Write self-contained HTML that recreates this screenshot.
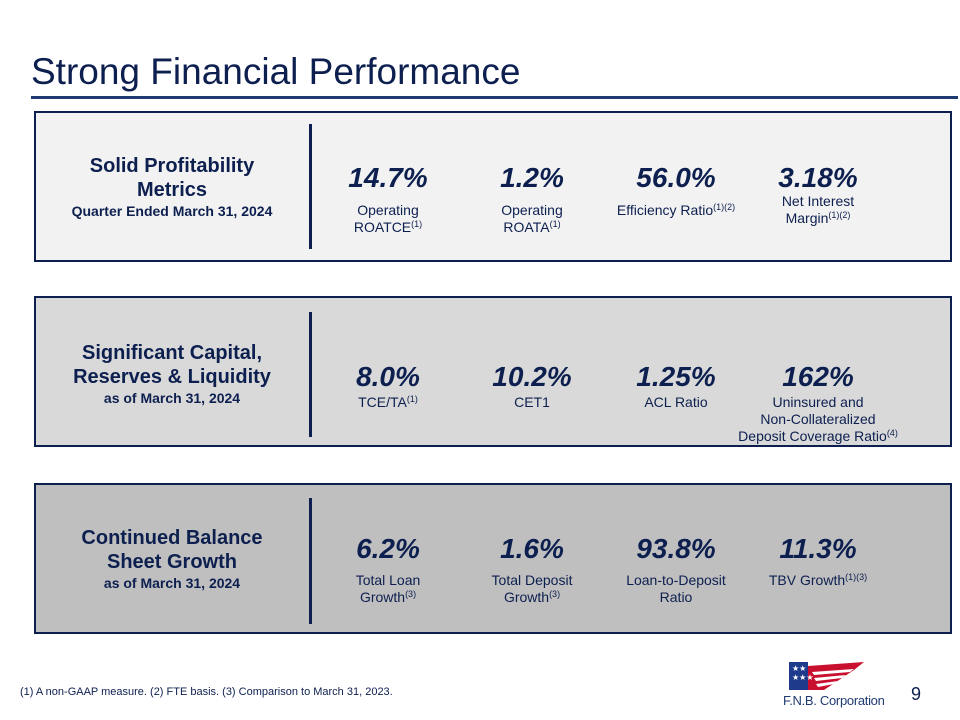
<!DOCTYPE html>
<html><head><meta charset="utf-8"><style>
body{margin:0;width:960px;height:720px;background:#fff;position:relative;overflow:hidden;font-family:"Liberation Sans",Arial,sans-serif;color:#0c1f4f}
.abs{position:absolute}
.title{left:31px;top:51px;font-size:37px;color:#0c1f4f}
.rule{left:31px;top:96px;width:927px;height:3px;background:#1f3a70}
.box{left:34px;width:918px;height:148px;border:2px solid #0c1f4f;box-sizing:border-box}
.div{width:3px;background:#0c1f4f;left:309px}
.head{width:270px;left:37px;text-align:center;font-weight:bold}
.h1{font-size:20px;line-height:24px}
.h2{font-size:14px;line-height:18px}
.big{font-size:28px;font-weight:bold;font-style:italic;width:150px;text-align:center}
.lab{font-size:14px;width:170px;text-align:center;line-height:17px;color:#0c1f4f}
sup{font-size:9px;vertical-align:5px;line-height:0}
</style></head><body>
<div class="abs title">Strong Financial Performance</div>
<div class="abs rule"></div>

<div class="abs box" style="top:111px;height:151px;background:#f2f2f2"></div>
<div class="abs div" style="top:124px;height:125px"></div>
<div class="abs head" style="top:154px"><div class="h1">Solid Profitability<br>Metrics</div><div class="h2">Quarter Ended March 31, 2024</div></div>

<div class="abs box" style="top:296px;height:151px;background:#d9d9d9"></div>
<div class="abs div" style="top:312px;height:125px"></div>
<div class="abs head" style="top:341px"><div class="h1">Significant Capital,<br>Reserves &amp; Liquidity</div><div class="h2">as of March 31, 2024</div></div>

<div class="abs box" style="top:483px;height:151px;background:#bfbfbf"></div>
<div class="abs div" style="top:498px;height:126px"></div>
<div class="abs head" style="top:526px"><div class="h1">Continued Balance<br>Sheet Growth</div><div class="h2">as of March 31, 2024</div></div>

<div id="metrics"></div>

<div class="abs" style="left:20px;top:686px;font-size:11px;color:#0c1f4f">(1) A non-GAAP measure. (2) FTE basis. (3) Comparison to March 31, 2023.</div>
<div class="abs" style="left:911px;top:684px;font-size:18px">9</div>

<svg class="abs" style="left:784px;top:662px" width="80" height="32">
<polygon points="5,0 24,0 24,28 5,28" fill="#1f3a8a"/>
<polygon points="24,4 80,0 70,8 40,28 24,28" fill="#c8102e"/>
<polygon points="28,10 70,7 66,10 30,13" fill="#fff"/>
<polygon points="30,16 62,13 58,16 32,19" fill="#fff"/>
<polygon points="32,22 54,19 50,22 34,25" fill="#fff"/>
<text x="8" y="9" font-size="8" fill="#fff">★★</text><text x="8" y="18" font-size="8" fill="#fff">★★★</text>
</svg>
<div class="abs" style="left:783px;top:693px;font-size:13px;color:#1f3a70;letter-spacing:-0.3px">F.N.B. Corporation</div>

<script>
const values1=["14.7%","1.2%","56.0%","3.18%"];
const labels1=["Operating<br>ROATCE<sup>(1)</sup>","Operating<br>ROATA<sup>(1)</sup>","Efficiency Ratio<sup>(1)(2)</sup>","Net Interest<br>Margin<sup>(1)(2)</sup>"];
const values2=["8.0%","10.2%","1.25%","162%"];
const labels2=["TCE/TA<sup>(1)</sup>","CET1","ACL Ratio","Uninsured and<br>Non-Collateralized<br>Deposit Coverage Ratio<sup>(4)</sup>"];
const values3=["6.2%","1.6%","93.8%","11.3%"];
const labels3=["Total Loan<br>Growth<sup>(3)</sup>","Total Deposit<br>Growth<sup>(3)</sup>","Loan-to-Deposit<br>Ratio","TBV Growth<sup>(1)(3)</sup>"];
const centers=[388,532,676,818];
const rows=[[values1,labels1,162,202],[values2,labels2,361,394],[values3,labels3,533,572]];
const host=document.getElementById('metrics');
rows.forEach(([v,l,ty,ly])=>{
  v.forEach((val,i)=>{
    const b=document.createElement('div');b.className='abs big';
    
    
    b.style.left=(centers[i]-75)+'px';b.style.top=ty+'px';b.textContent=val;host.appendChild(b);
    const t=document.createElement('div');t.className='abs lab';
    
    
    let top=ly;
    if(i===3&&ly===202){top=193;}
    t.style.left=(centers[i]-85)+'px';t.style.top=top+'px';t.innerHTML=l[i];host.appendChild(t);
  });
});
</script>
</body></html>
